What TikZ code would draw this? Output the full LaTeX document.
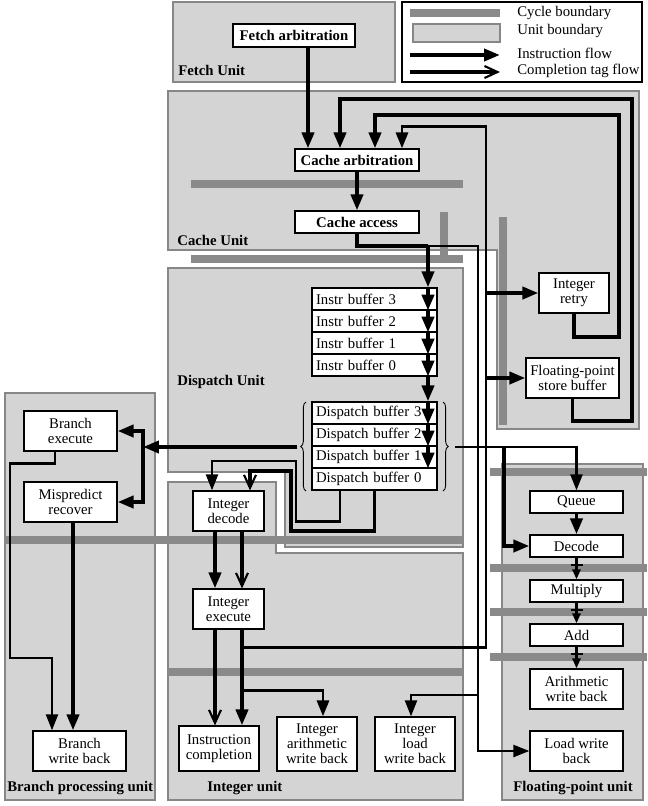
\documentclass[tikz,border=0pt]{standalone}
\usepackage{fontspec}
\setmainfont{Liberation Serif}
\usetikzlibrary{arrows.meta,calc,decorations.pathreplacing}
\definecolor{unitgray}{RGB}{212,212,212}
\definecolor{unitedge}{RGB}{135,135,135}
\definecolor{cyclegray}{RGB}{138,138,138}
\begin{document}
\begin{tikzpicture}[x=0.02cm, y=-0.02cm, every node/.style={font=\fontsize{8.4}{8.6}\selectfont},
  unit/.style={fill=unitgray,draw=unitedge,line width=0.85pt},
  cycle/.style={cyclegray,line width=4pt},
  blk/.style={draw,fill=white,line width=0.7pt,inner sep=0pt,align=center},
  bnode/.style={font=\fontsize{8.4}{8.6}\selectfont\bfseries},
  buf/.style={draw,fill=white,line width=0.7pt,minimum height=0.44cm,text width=2.34cm,inner xsep=0.08cm,inner ysep=0pt,align=left},
  ulabel/.style={anchor=west,inner sep=0pt,font=\fontsize{8.4}{8.6}\selectfont\bfseries},
  flow/.style={line width=2.2pt,-{Triangle[length=0.32cm,width=0.24cm]}},
  midflow/.style={line width=1.7pt,-{Triangle[length=0.32cm,width=0.24cm]}},
  thinflow/.style={line width=1.3pt,-{Triangle[length=0.32cm,width=0.24cm]}},
  fpflow/.style={line width=1.8pt,-{Triangle[length=0.2cm,width=0.16cm]}},
  tag/.style={line width=2.2pt,-{Straight Barb[length=0.26cm,width=0.24cm,line width=1.2pt]}}]
\useasboundingbox (0,0) rectangle (647,806);
% units
\draw[unit] (173,2) rectangle (395,82);
\draw[unit] (168,91) -- (639,91) -- (639,429) -- (497,429) -- (497,250) -- (168,250) -- cycle;
\draw[unit] (168,268) -- (463,268) -- (463,547) -- (285,547) -- (285,472) -- (168,472) -- cycle;
\draw[unit] (168,482) -- (276,482) -- (276,553) -- (463,553) -- (463,800) -- (168,800) -- cycle;
\draw[unit] (5,393) rectangle (155,800);
\draw[unit] (502,464) rectangle (643,800);
% cycle boundaries
\draw[cycle] (191,184) -- (463,184);
\draw[cycle] (191,259) -- (463,259);
\draw[cycle] (444,212) -- (444,259);
\draw[cycle] (503,217) -- (503,425);
\draw[cycle] (5,540) -- (463,540);
\draw[cycle] (168,672) -- (463,672);
\foreach \y in {472,568,612,657} \draw[cycle] (490,\y) -- (647,\y);
% unit names
\node[ulabel] (fetchu) at (178,70) {Fetch Unit};
\node[ulabel] (cacheu) at (177,240) {Cache Unit};
\node[ulabel] (dispu) at (177,382) {Dispatch Unit};
\node[ulabel] (branchu) at (7,788) {Branch processing unit};
\node[ulabel] (intu) at (207,788) {Integer unit};
\node[ulabel] (fpu) at (513,788) {Floating-point unit};
% blocks
\node[blk,bnode,minimum width=2.44cm,minimum height=0.46cm] (fetarb) at (294,35.5) {Fetch arbitration};
\node[blk,bnode,minimum width=2.48cm,minimum height=0.44cm] (cacharb) at (357,160) {Cache arbitration};
\node[blk,bnode,minimum width=2.48cm,minimum height=0.44cm] (cacacc) at (357,222) {Cache access};
\foreach \i/\y in {3/299,2/321,1/343,0/365} \node[buf] (ib\i) at (374.5,\y) {Instr buffer \i};
\foreach \i/\y in {3/413,2/435,1/457,0/479} \node[buf] (db\i) at (374.5,\y) {Dispatch buffer \i};
\node[blk,minimum width=1.4cm,minimum height=0.8cm] (intretry) at (574,293) {Integer\\retry};
\node[blk,minimum width=1.86cm,minimum height=0.8cm] (fpstore) at (572.5,378) {Floating-point\\store buffer};
\node[blk,minimum width=1.86cm,minimum height=0.8cm] (brexec) at (70.5,431) {Branch\\execute};
\node[blk,minimum width=1.86cm,minimum height=0.8cm] (mispred) at (70.5,502) {Mispredict\\recover};
\node[blk,minimum width=1.86cm,minimum height=0.8cm] (brwb) at (79.5,751) {Branch\\write back};
\node[blk,minimum width=1.42cm,minimum height=0.8cm] (intdec) at (228.5,511) {Integer\\decode};
\node[blk,minimum width=1.42cm,minimum height=0.8cm] (intexe) at (228.5,609) {Integer\\execute};
\node[blk,minimum width=1.6cm,minimum height=0.9cm] (instcomp) at (219,748.5) {Instruction\\completion};
\node[blk,minimum width=1.6cm,minimum height=1.08cm] (intarwb) at (317,744) {Integer\\arithmetic\\write back};
\node[blk,minimum width=1.6cm,minimum height=1.08cm] (intldwb) at (415,744) {Integer\\load\\write back};
\node[blk,minimum width=1.86cm,minimum height=0.44cm] (queue) at (576.5,502) {Queue};
\node[blk,minimum width=1.86cm,minimum height=0.44cm] (fpdec) at (576.5,546) {Decode};
\node[blk,minimum width=1.86cm,minimum height=0.44cm] (mult) at (576.5,591) {Multiply};
\node[blk,minimum width=1.86cm,minimum height=0.44cm] (fpadd) at (576.5,635) {Add};
\node[blk,minimum width=1.86cm,minimum height=0.8cm] (arwb) at (576.5,689) {Arithmetic\\write back};
\node[blk,minimum width=1.86cm,minimum height=0.8cm] (ldwb) at (576.5,751) {Load write\\back};
% braces round the dispatch buffers
\draw[line width=0.5pt,decorate,decoration={brace,amplitude=3pt}] (306,491) -- (306,402);
\draw[line width=0.5pt,decorate,decoration={brace,amplitude=3pt}] (443,402) -- (443,491);
\coordinate (dbl) at (297,447);
\coordinate (dbr) at (455,447);
\coordinate (bj) at (143,447);
\coordinate (fpj) at (504,447);
\coordinate (ibin) at (428,246);
\coordinate (ldbus) at (478,246);
\coordinate (ldj) at (478,695);
\coordinate (bus) at (486,126);
\coordinate (fa) at ($(fetarb.south)+(14,0)$);
\coordinate (exl) at ($(intexe.south)+(-13.5,0)$);
\coordinate (exr) at ($(intexe.south)+(13.5,0)$);
% fetch and cache flow
\draw[flow] (fa) -- (fa |- cacharb.north);
\draw[flow] (cacharb) -- (cacacc);
\draw[flow] (fpstore.south) -- ++(0,22) -| (632,99) -| ($(cacharb.north)+(-17,0)$);
\draw[flow] (intretry.south) -- ++(0,23) -| (619,115) -| ($(cacharb.north)+(18,0)$);
\draw[midflow] (exr |- 0,647) -| (bus) -| ($(cacharb.north)+(45,0)$);
\draw[flow] (bus |- intretry.west) -- (intretry.west);
\draw[flow] (bus |- fpstore.west) -- (fpstore.west);
% buffers
\draw[line width=2.2pt] (cacacc.south) |- (ibin);
\draw[flow] (ibin) -- (ibin |- ib3.north);
\foreach \n in {ib3,ib2,ib1,ib0,db3,db2,db1} \draw[flow] (ibin |- \n.north) -- (ibin |- \n.south);
\draw[flow] (ibin |- ib0.south) -- (ibin |- db3.north);
\draw[thinflow] (ibin) -- (ldbus) |- (ldwb.west);
\draw[thinflow] (ldj) -| ($(intldwb.north)+(-4,0)$);
% branch unit
\draw[flow] (dbl) -- (bj);
\draw[flow] (bj) |- (brexec.east);
\draw[flow] (bj) |- (mispred.east);
\draw[thinflow] ($(brexec.south)+(-15.5,0)$) -- ++(0,12) -| (10,658) -| ($(brwb.north)+(-27.5,0)$);
\draw[flow] ($(mispred.south)+(2.5,0)$) -- ($(brwb.north)+(-6.5,0)$);
% integer unit
\draw[thinflow] ($(db0.south)+(-34.5,0)$) -- ++(0,31) -| (296,461) -| ($(intdec.north)+(-16.5,0)$);
\draw[tag] (db0.south) -- ++(0,40) -| (291,471) -| ($(intdec.north)+(21.5,0)$);
\draw[flow] ($(intdec.south)+(-13.5,0)$) -- (exl |- intexe.north);
\draw[tag] ($(intdec.south)+(13.5,0)$) -- (exr |- intexe.north);
\draw[tag] (exl) -- (exl |- instcomp.north);
\draw[flow] (exr) -- (exr |- instcomp.north);
\draw[midflow] (exr |- 0,690) -| ($(intarwb.north)+(6,0)$);
% floating-point unit
\draw[thinflow] (dbr) -| (queue.north);
\draw[flow] (fpj) |- (fpdec.west);
\draw[flow] (queue) -- (fpdec);
\foreach \a/\b in {fpdec/mult,mult/fpadd,fpadd/arwb} {
  \draw[line width=1.8pt] (\a.south) -- ++(0,7) coordinate (t\a);
  \draw[line width=1.2pt] ($(t\a)+(-6,0)$) -- ($(t\a)+(6,0)$);
  \draw[fpflow] (t\a) -- (\b);
}
% legend
\node[draw,line width=0.8pt,minimum width=4.8cm,minimum height=1.6cm,inner sep=0pt] (legend) at (522,42) {};
\coordinate (lga) at (410,13); \coordinate (lgb) at (500,13);
\draw[cycle] (lga) -- (lgb);
\node[unit,minimum width=1.74cm,minimum height=0.36cm,inner sep=0pt] (lgunit) at (456.5,33) {};
\coordinate (lgc) at (410,55); \coordinate (lgd) at (500,55);
\draw[flow] (lgc) -- (lgd);
\coordinate (lge) at (410,72); \coordinate (lgf) at (500,72);
\draw[tag] (lge) -- (lgf);
\node[anchor=west,inner sep=0pt] (lg1) at (517,13) {Cycle boundary};
\node[anchor=west,inner sep=0pt] (lg2) at (517,31) {Unit boundary};
\node[anchor=west,inner sep=0pt] (lg3) at (517,53) {Instruction flow};
\node[anchor=west,inner sep=0pt] (lg4) at (517,71) {Completion tag flow};
\end{tikzpicture}
\end{document}
